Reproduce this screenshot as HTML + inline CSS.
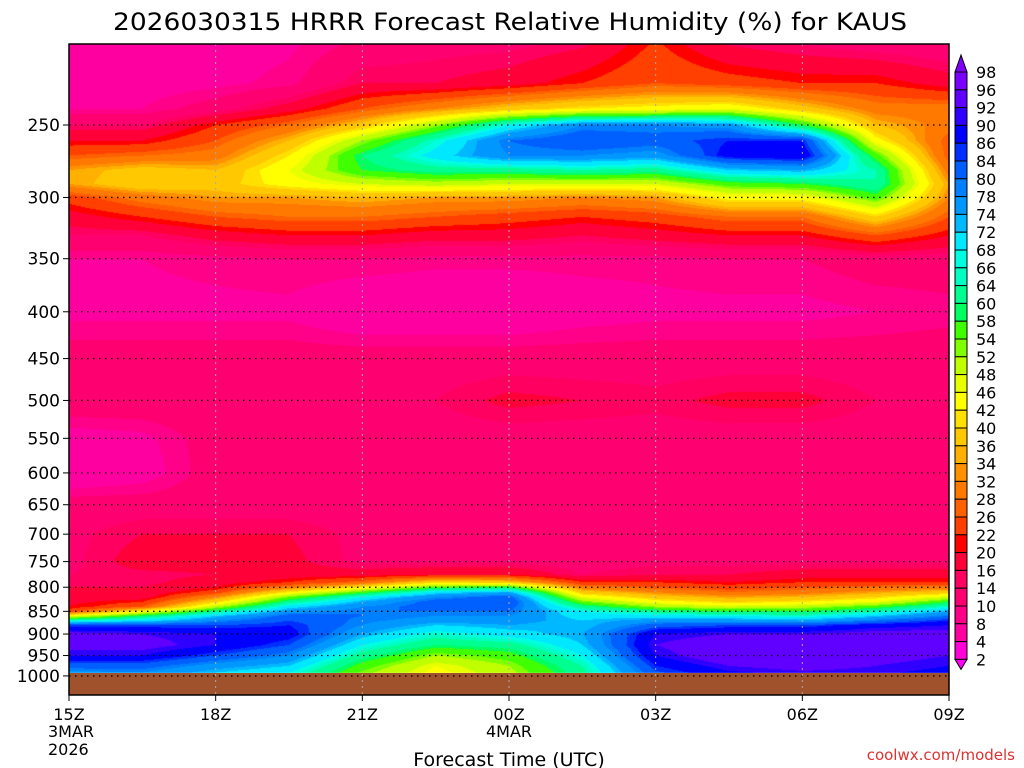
<!DOCTYPE html>
<html><head><meta charset="utf-8">
<style>
body{margin:0;background:#fff;width:1024px;height:768px;overflow:hidden;position:relative;font-family:"DejaVu Sans","Liberation Sans",sans-serif}
#hm{position:absolute;left:69px;top:44px}
#ov{position:absolute;left:0;top:0}
</style></head><body>
<canvas id="hm" width="880" height="630"></canvas>
<svg id="ov" width="1024" height="768"></svg>
<script>
// ---- data ----
const hours = [0,1.5,3,4.5,6,7.5,9,10.5,12,13.5,15,16.5,18];
const pressures = [200,225,240,250,260,270,280,290,300,315,330,350,400,450,500,550,600,650,700,750,775,790,800,810,820,830,840,850,860,870,880,900,925,950,975,1000];
const rh0 = [6,6,8,14,20,26,34,34,24,18,14,8,7,12,13,6,4,12,13,13,14,15,16,17,18,19,20,24,46,66,84,94,94,90,82,74];
const rh1 = [6,6,8,14,20,28,38,40,30,22,14,8,7,12,13,7,6,12,16,18,15,15,16,17,18,22,26,44,60,70,84,92,94,90,82,76];
const rh2 = [6,7,12,22,26,30,36,38,34,26,18,9,7,12,13,12,12,12,16,18,16,18,20,24,32,40,50,62,72,78,84,90,90,84,76,70];
const rh3 = [7,9,18,28,36,42,46,44,34,28,20,10,7,12,13,12,12,12,16,17,18,22,30,42,54,62,70,76,82,84,86,88,84,78,72,66];
const rh4 = [10,16,26,38,52,60,58,48,36,28,20,10,4,12,13,12,12,12,13,13,18,28,42,56,68,74,78,80,80,79,78,74,68,62,56,52];
const rh5 = [12,16,32,52,66,70,62,50,34,26,18,9,4,12,14,12,12,12,13,13,20,40,56,70,78,82,82,80,78,76,72,66,60,52,46,44];
const rh6 = [12,18,38,68,80,78,62,48,34,24,18,9,4,12,17,12,12,12,13,13,20,38,58,74,82,84,82,80,78,76,74,70,62,56,52,50];
const rh7 = [14,22,42,78,84,78,64,48,32,22,16,9,6,12,16,12,12,12,12,12,14,22,30,38,46,54,62,68,70,72,72,74,72,68,64,62];
const rh8 = [22,26,44,78,82,76,62,48,34,24,18,9,7,12,15,12,12,12,13,13,16,22,26,32,38,44,52,62,70,76,82,90,92,90,86,82];
const rh9 = [14,24,46,76,86,88,72,56,44,28,20,10,7,12,17,12,12,12,13,13,16,20,24,28,34,40,48,58,68,76,84,92,96,96,92,88];
const rh10 = [12,22,38,58,86,90,74,58,44,28,20,10,7,12,17,12,12,12,13,13,18,22,26,30,36,42,50,58,66,74,84,92,94,96,94,90];
const rh11 = [10,22,30,36,44,56,64,64,56,40,26,12,8,12,14,12,12,12,13,13,18,22,28,34,40,46,56,64,72,80,88,94,94,94,92,90];
const rh12 = [9,18,30,30,26,26,30,34,32,26,20,12,9,12,13,12,12,12,13,13,18,22,30,38,48,58,66,74,80,86,90,94,94,92,90,88];
const series = [rh0,rh1,rh2,rh3,rh4,rh5,rh6,rh7,rh8,rh9,rh10,rh11,rh12];
const cbLabels = [98,96,92,90,86,84,80,78,74,72,68,66,64,60,58,54,52,48,46,42,40,36,34,32,28,26,22,20,16,14,10,8,4,2];
const pTicks = [250,300,350,400,450,500,550,600,650,700,750,800,850,900,950,1000];
const xTickHours = [0,3,6,9,12,15,18];
const xTickLabels = ["15Z","18Z","21Z","00Z","03Z","06Z","09Z"];
const boxColors = ["#7a00ff","#6000ff","#3000ff","#0000ff","#0030ff","#0060ff","#0080ff","#0098ff","#00b8ff","#00e8ff","#00ffe0","#00ffc0","#00ff90","#00ff60","#40ff00","#80ff00","#c0ff00","#e8ff00","#ffff00","#ffe000","#ffc800","#ffb000","#ff9000","#ff7800","#ff6000","#ff4000","#ff0000","#ff0038","#ff0060","#ff0070","#ff0088","#ff00a0","#ff00d8"];

// ---- axes ----
const X0=69, X1=949, Y250=125, B=397.4, PT=44, PB=695;
const xs = h => X0 + (X1-X0)*h/18;
const ys = p => Y250 + B*Math.log(p/250);
function hex(c){return [parseInt(c.substr(1,2),16),parseInt(c.substr(3,2),16),parseInt(c.substr(5,2),16)];}
const rgbBoxes = boxColors.map(hex);
function colorFor(v){
  if(v>=98) return [128,0,255];
  if(v<2) return [255,0,255];
  for(let i=0;i<cbLabels.length-1;i++){ if(v>=cbLabels[i+1]) return rgbBoxes[i]; }
  return [255,0,255];
}

// ---- heatmap ----
const cv=document.getElementById('hm'); const ctx=cv.getContext('2d');
const W=880, H=629;
const img=ctx.createImageData(W,H);
const lvY = pressures.map(ys);
const colX = hours.map(xs);
for(let py=0;py<H;py++){
  const y=PT+py+0.5;
  let j=0; while(j<lvY.length-2 && lvY[j+1]<y) j++;
  let fy=(y-lvY[j])/(lvY[j+1]-lvY[j]); fy=Math.max(0,Math.min(1,fy));
  for(let px=0;px<W;px++){
    const x=X0+px+0.5;
    let i=0; while(i<colX.length-2 && colX[i+1]<x) i++;
    let fx=(x-colX[i])/(colX[i+1]-colX[i]); fx=Math.max(0,Math.min(1,fx));
    const a=series[i][j]*(1-fy)+series[i][j+1]*fy;
    const b=series[i+1][j]*(1-fy)+series[i+1][j+1]*fy;
    const v=a*(1-fx)+b*fx;
    const c=colorFor(v); const k=(py*W+px)*4;
    img.data[k]=c[0];img.data[k+1]=c[1];img.data[k+2]=c[2];img.data[k+3]=255;
  }
}
ctx.putImageData(img,0,0);

// ---- overlay ----
const svg=document.getElementById('ov'); const NS="http://www.w3.org/2000/svg";
function mk(tag,attrs,parent){const e=document.createElementNS(NS,tag);for(const k in attrs)e.setAttribute(k,attrs[k]);(parent||svg).appendChild(e);return e;}
let e;
e=mk('rect',{x:X0,y:673,width:X1-X0,height:PB-673,fill:'#a0522d'});


pTicks.forEach(p=>{
  const y=ys(p);
  e=mk('line',{x1:X0,x2:X1,y1:y,y2:y,stroke:'#000','stroke-width':1.3,'stroke-dasharray':'1.5 4.5'});
  
  
  mk('line',{x1:X0-6,x2:X0,y1:y,y2:y,stroke:'#000'});
  e=mk('text',{x:60,y:y+6,'text-anchor':'end','font-size':17,fill:'#000'});
  e.textContent=p;
  
  
});
xTickHours.forEach((h,i)=>{
  const x=xs(h);
  if(i>0&&i<xTickHours.length-1){
    e=mk('line',{x1:x,x2:x,y1:PT,y2:PB,stroke:'#aaa','stroke-width':1,'stroke-dasharray':'2 4'});
    
    
  }
  mk('line',{x1:x,x2:x,y1:PB,y2:PB+6,stroke:'#000'});
  e=mk('text',{x:x,y:720,'text-anchor':'middle','font-size':16,fill:'#000'});
  e.textContent=xTickLabels[i];
  
  
});
e=mk('text',{x:48,y:737,'font-size':16,fill:'#000'});e.textContent='3MAR';


e=mk('text',{x:48,y:755,'font-size':16,fill:'#000'});e.textContent='2026';


e=mk('text',{x:xs(9),y:737,'text-anchor':'middle','font-size':16,fill:'#000'});e.textContent='4MAR';


e=mk('rect',{x:X0,y:PT,width:X1-X0,height:PB-PT,fill:'none',stroke:'#000','stroke-width':1.5});


e=mk('text',{x:510,y:30,'text-anchor':'middle','font-size':24,fill:'#000',textLength:794,lengthAdjust:'spacingAndGlyphs'});
e.textContent='2026030315 HRRR Forecast Relative Humidity (%) for KAUS';


e=mk('text',{x:509,y:766,'text-anchor':'middle','font-size':19,fill:'#000'});
e.textContent='Forecast Time (UTC)';


e=mk('text',{x:1015,y:760,'text-anchor':'end','font-size':15,fill:'#e03030'});
e.textContent='coolwx.com/models';


const CX=955, CW=12, CT=72, CS=17.8;
e=mk('polygon',{points:`${CX},${CT} ${CX+CW},${CT} ${CX+CW/2},${CT-17}`,fill:'#8000ff',stroke:'#000'});


boxColors.forEach((c,i)=>{
  e=mk('rect',{x:CX,y:CT+i*CS,width:CW,height:CS,fill:c,stroke:'#000','stroke-width':1});
  
  
});
const cbBot=CT+boxColors.length*CS;
e=mk('polygon',{points:`${CX},${cbBot} ${CX+CW},${cbBot} ${CX+CW/2},${cbBot+10}`,fill:'#ff00ff',stroke:'#000'});


cbLabels.forEach((l,i)=>{
  e=mk('text',{x:976,y:CT+i*CS+6,'font-size':16,fill:'#000'});
  e.textContent=l;
  
  
});
</script>
</body></html>
